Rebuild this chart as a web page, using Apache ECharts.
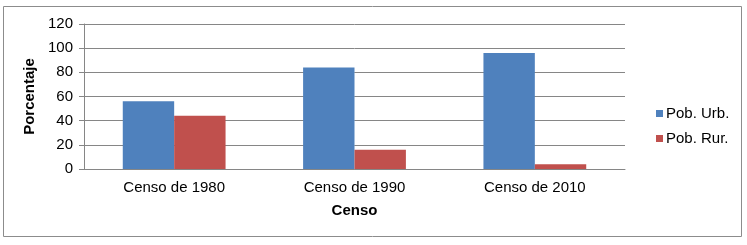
<!DOCTYPE html>
<html>
<head>
<meta charset="utf-8">
<script src="https://cdn.jsdelivr.net/npm/echarts@6/dist/echarts.min.js"></script>
<style>
  html, body { margin: 0; padding: 0; background: #fff; }
  #my-charts { width: 747px; height: 245px; }
</style>
</head>
<body>
<div id="my-charts"></div>
<script>
// datos del gráfico
var categorias = ['Censo de 1980', 'Censo de 1990', 'Censo de 2010']
var pobUrb = [56, 84, 96]
var pobRur = [44, 16, 4]
var ticksY = [0, 20, 40, 60, 80, 100, 120]

var myChart = echarts.init(document.getElementById('my-charts'))

var fuente = 'Liberation Sans, Arial, sans-serif'

var option = {
  animation: false,
  textStyle: { fontFamily: fuente },
  graphic: [
    {
      type: 'rect',
      shape: { x: 3.5, y: 6.5, width: 738, height: 230 },
      style: { fill: 'none', stroke: '#8c8c8c', lineWidth: 1 },
      silent: true
    }
  ],
  grid: {
    left: 84,
    right: 122,
    top: 24,
    bottom: 76
  },
  legend: {
    orient: 'vertical',
    left: 651,
    top: 101,
    itemWidth: 7,
    itemHeight: 7,
    itemGap: 10,
    icon: 'rect',
    textStyle: { fontSize: 15, color: '#000', fontFamily: fuente, padding: [0, 0, 0, -2] },
    data: ['Pob. Urb.', 'Pob. Rur.']
  },
  xAxis: {
    type: 'category',
    data: categorias,
    name: 'Censo',
    nameLocation: 'middle',
    nameGap: 34,
    nameTextStyle: { fontSize: 15, fontWeight: 'bold', color: '#000' },
    axisLine: { lineStyle: { color: '#868686', width: 1 } },
    axisTick: { show: false },
    axisLabel: { fontSize: 15, color: '#000', margin: 11 }
  },
  yAxis: {
    type: 'value',
    min: ticksY[0],
    max: ticksY[ticksY.length - 1],
    interval: 20,
    name: 'Porcentaje',
    nameLocation: 'middle',
    nameGap: 43,
    nameRotate: 90,
    nameTextStyle: { fontSize: 15, fontWeight: 'bold', color: '#000' },
    axisLine: { show: true, lineStyle: { color: '#868686', width: 1 } },
    axisTick: { show: true, inside: false, length: 5, lineStyle: { color: '#868686' } },
    axisLabel: { fontSize: 15, color: '#000', margin: 11 },
    splitLine: { show: true, lineStyle: { color: '#868686', width: 1 } }
  },
  series: [
    {
      name: 'Pob. Urb.',
      type: 'bar',
      data: pobUrb,
      barGap: 0,
      barCategoryGap: '43%',
      itemStyle: { color: '#4f81bd' }
    },
    {
      name: 'Pob. Rur.',
      type: 'bar',
      data: pobRur,
      itemStyle: { color: '#c0504d' }
    }
  ]
}

myChart.setOption(option)
</script>
</body>
</html>
